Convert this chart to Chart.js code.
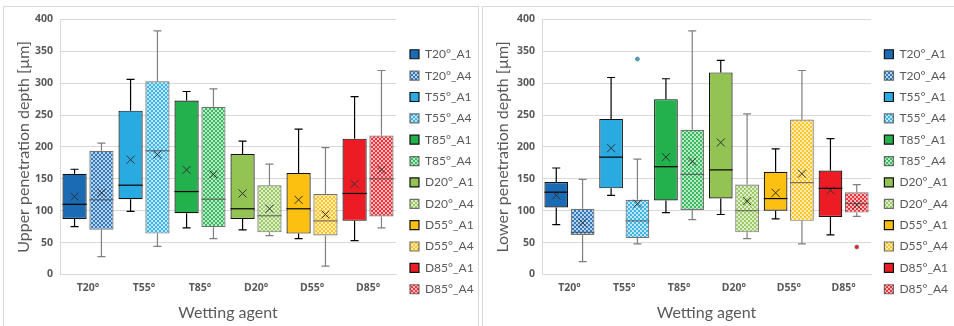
<!DOCTYPE html>
<html>
<head>
<meta charset="utf-8">
<script src="https://cdn.jsdelivr.net/npm/chart.js@4.4.0/dist/chart.umd.min.js"></script>
<style>
    body { margin: 0; background: #fff; width: 954px; height: 326px; overflow: hidden; position: relative; }
    .panel { position: absolute; top: 6px; height: 330px; border: 1px solid #d9d9d9; box-sizing: border-box; }
    canvas { position: absolute; top: 6px; }
</style>
</head>
<body>
<div class="panel" style="left:3px;width:476px"></div>
<div class="panel" style="left:482px;width:480px"></div>
<canvas id="upper-chart" width="476" height="320" style="left:3px"></canvas>
<canvas id="lower-chart" width="472" height="320" style="left:482px"></canvas>
<script>
const categories = ['T20°', 'T55°', 'T85°', 'D20°', 'D55°', 'D85°'];
const seriesNames = ['T20°_A1', 'T20°_A4', 'T55°_A1', 'T55°_A4', 'T85°_A1', 'T85°_A4',
    'D20°_A1', 'D20°_A4', 'D55°_A1', 'D55°_A4', 'D85°_A1', 'D85°_A4'];
const categoryColors = ['#1a6bb4', '#29abe2', '#22b14c', '#92c353', '#fcc010', '#ed1c24'];

// upper penetration depth [µm], one value per series
const upperMin    = [75, 28, 99, 44, 73, 56, 70, 61, 56, 13, 53, 73];
const upperQ1     = [87, 70, 118, 64, 96, 74, 87, 66, 64, 61, 84, 91];
const upperMedian = [110, 117, 140, 194, 130, 118, 103, 92, 103, 84, 127, 150];
const upperQ3     = [158, 194, 257, 303, 273, 263, 189, 140, 159, 126, 213, 218];
const upperMax    = [165, 206, 306, 382, 287, 291, 209, 173, 228, 199, 279, 320];
const upperMean   = [122, 128, 180, 188, 164, 157, 127, 103, 117, 94, 142, 164];
const upperOutliers = [[], [], [], [], [], [], [], [], [], [], [], []];

// lower penetration depth [µm]
const lowerMin    = [78, 20, 124, 48, 97, 86, 94, 56, 87, 48, 62, 91];
const lowerQ1     = [105, 62, 135, 57, 116, 101, 119, 66, 100, 84, 90, 97];
const lowerMedian = [129, 66, 184, 84, 169, 157, 164, 100, 119, 144, 135, 111];
const lowerQ3     = [145, 103, 244, 117, 275, 227, 317, 141, 161, 243, 163, 129];
const lowerMax    = [167, 149, 309, 181, 307, 382, 336, 252, 197, 320, 213, 141];
const lowerMean   = [124, 81, 198, 111, 184, 177, 207, 115, 128, 158, 132, 109];
const lowerOutliers = [[], [], [], [338], [], [], [], [], [], [], [], [43]];

const yTicks = [0, 50, 100, 150, 200, 250, 300, 350, 400];

const textGray = '#595959';
const fontFamily = 'Lato, "Liberation Sans", sans-serif';
const tickFont = { family: '"Noto Sans", Lato, sans-serif', size: 10.5, weight: 'bold' };

function checker(color) {
    let tile = document.createElement('canvas');
    tile.width = 4;
    tile.height = 4;
    let g = tile.getContext('2d');
    g.fillStyle = '#fff';
    g.fillRect(0, 0, 4, 4);
    g.fillStyle = color;
    g.globalAlpha = 0.3;
    g.fillRect(0, 0, 4, 4);
    g.globalAlpha = 0.85;
    g.fillRect(0, 0, 2, 2);
    g.fillRect(2, 2, 2, 2);
    return g.createPattern(tile, 'repeat');
}

function buildDatasets(q1, q3) {
    let sets = [];
    seriesNames.forEach(function (name, i) {
        let cat = Math.floor(i / 2);
        let isA4 = i % 2 === 1;
        let data = categories.map(function (c, j) {
            return j === cat ? [q1[i], q3[i]] : null;
        });
        sets.push({
            label: name,
            data: data,
            backgroundColor: isA4 ? checker(categoryColors[cat]) : categoryColors[cat],
            borderColor: isA4 ? 'rgba(70,70,70,0.75)' : '#111',
            borderWidth: 1.2,
            borderSkipped: false,
            categoryPercentage: 0.96,
            barPercentage: 0.9
        });
    });
    return sets;
}

const boxPlugin = {
    id: 'boxes',
    beforeDatasetsDraw(chart, args, opts) {
        let ctx = chart.ctx;
        let y = chart.scales.y;
        ctx.save();
        seriesNames.forEach(function (name, i) {
            let el = chart.getDatasetMeta(i).data[Math.floor(i / 2)];
            if (!el) return;
            let isA4 = i % 2 === 1;
            ctx.strokeStyle = isA4 ? '#7f7f7f' : '#000';
            ctx.lineWidth = 1.2;
            let cap = 4;
            ctx.beginPath();
            ctx.moveTo(el.x, y.getPixelForValue(opts.q3[i]));
            ctx.lineTo(el.x, y.getPixelForValue(opts.max[i]));
            ctx.moveTo(el.x - cap, y.getPixelForValue(opts.max[i]));
            ctx.lineTo(el.x + cap, y.getPixelForValue(opts.max[i]));
            ctx.moveTo(el.x, y.getPixelForValue(opts.q1[i]));
            ctx.lineTo(el.x, y.getPixelForValue(opts.min[i]));
            ctx.moveTo(el.x - cap, y.getPixelForValue(opts.min[i]));
            ctx.lineTo(el.x + cap, y.getPixelForValue(opts.min[i]));
            ctx.stroke();
        });
        ctx.restore();
    },
    afterDatasetsDraw(chart, args, opts) {
        let ctx = chart.ctx;
        let y = chart.scales.y;
        ctx.save();
        seriesNames.forEach(function (name, i) {
            let cat = Math.floor(i / 2);
            let el = chart.getDatasetMeta(i).data[cat];
            if (!el) return;
            let isA4 = i % 2 === 1;
            let half = el.width / 2;
            // median
            let my = y.getPixelForValue(opts.median[i]);
            ctx.strokeStyle = isA4 ? 'rgba(70,70,70,0.7)' : '#000';
            ctx.lineWidth = 1.2;
            ctx.beginPath();
            ctx.moveTo(el.x - half, my);
            ctx.lineTo(el.x + half, my);
            ctx.stroke();
            // mean marker
            let ay = y.getPixelForValue(opts.mean[i]);
            ctx.strokeStyle = '#333';
            ctx.lineWidth = 1;
            ctx.beginPath();
            ctx.moveTo(el.x - 4, ay - 4);
            ctx.lineTo(el.x + 4, ay + 4);
            ctx.moveTo(el.x + 4, ay - 4);
            ctx.lineTo(el.x - 4, ay + 4);
            ctx.stroke();
            // outliers
            opts.outliers[i].forEach(function (v) {
                ctx.beginPath();
                ctx.arc(el.x, y.getPixelForValue(v), 2, 0, Math.PI * 2);
                ctx.fillStyle = categoryColors[cat];
                ctx.fill();
                ctx.strokeStyle = '#7f7f7f';
                ctx.lineWidth = 0.8;
                ctx.stroke();
            });
        });
        ctx.restore();
    }
};

// fixes the legend width and nudges it right, away from the plot
const legendFit = {
    id: 'legendFit',
    beforeLayout(chart, args, opts) {
        if (chart.legend) {
            chart.legend.afterFit = function () { this.width = opts.width; };
        }
    },
    afterLayout(chart, args, opts) {
        if (chart.legend) {
            chart.legend.left += opts.shift;
            chart.legend.right += opts.shift;
        }
    }
};

function makeChart(id, title, stats, layout) {
    let ctx = document.getElementById(id).getContext('2d');
    return new Chart(ctx, {
        type: 'bar',
        data: {
            labels: categories,
            datasets: buildDatasets(stats.q1, stats.q3)
        },
        plugins: [boxPlugin, legendFit],
        options: {
            responsive: false,
            animation: false,
            skipNull: true,
            layout: { padding: { top: 13.5, right: 0, bottom: 2, left: 0 } },
            plugins: {
                tooltip: { enabled: false },
                legend: {
                    position: 'right',
                    labels: {
                        boxWidth: 9,
                        boxHeight: 9,
                        padding: 9.36,
                        color: textGray,
                        font: { family: fontFamily, size: 12 }
                    }
                },
                legendFit: { width: layout.legendWidth, shift: layout.legendShift },
                boxes: stats
            },
            scales: {
                x: {
                    grid: { display: false, drawTicks: false },
                    border: { color: '#d9d9d9' },
                    ticks: { color: textGray, font: tickFont, padding: 7.4 },
                    title: { display: true, text: 'Wetting agent', color: textGray, font: { family: fontFamily, size: 16 }, padding: { top: 1, bottom: 2 } }
                },
                y: {
                    min: 0,
                    max: 400,
                    afterBuildTicks: function (axis) {
                        axis.ticks = yTicks.map(function (v) { return { value: v }; });
                    },
                    afterFit: function (axis) {
                        axis.width = layout.yWidth;
                    },
                    grid: { color: '#d9d9d9', drawTicks: false },
                    border: { color: '#d9d9d9' },
                    ticks: { color: textGray, font: tickFont, padding: 7 },
                    title: { display: true, text: title, color: textGray, font: { family: fontFamily, size: 16 }, padding: { top: 11, bottom: 2 } }
                }
            }
        }
    });
}

makeChart('upper-chart', 'Upper penetration depth [µm]', {
    min: upperMin, q1: upperQ1, median: upperMedian, q3: upperQ3, max: upperMax, mean: upperMean, outliers: upperOutliers
}, { yWidth: 57, legendWidth: 84, legendShift: 4.6 });
makeChart('lower-chart', 'Lower penetration depth [µm]', {
    min: lowerMin, q1: lowerQ1, median: lowerMedian, q3: lowerQ3, max: lowerMax, mean: lowerMean, outliers: lowerOutliers
}, { yWidth: 60, legendWidth: 79, legendShift: 4 });
</script>
</body>
</html>
